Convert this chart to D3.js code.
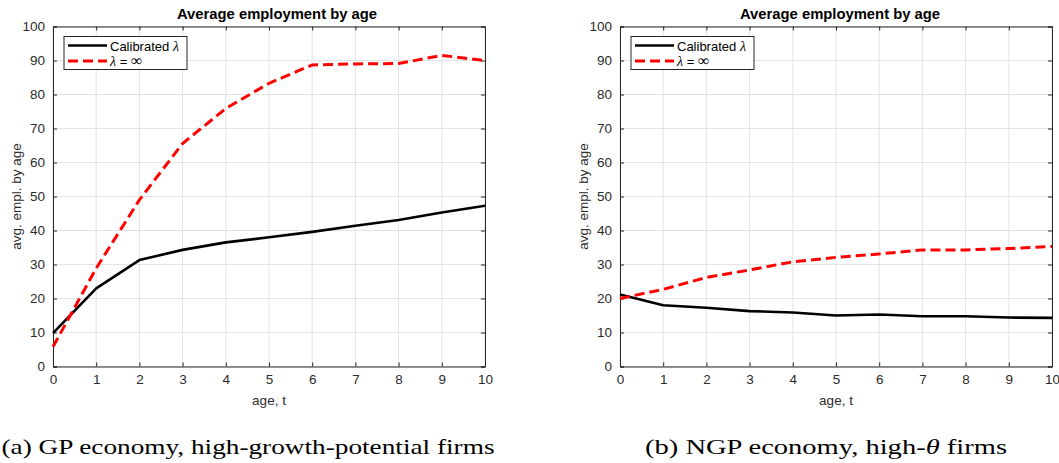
<!DOCTYPE html>
<html>
<head>
<meta charset="utf-8">
<script src="https://cdn.jsdelivr.net/npm/d3@7"></script>
<style>
  html, body { margin: 0; padding: 0; background: #fff; }
  svg { display: block; }
</style>
</head>
<body>
<svg id="chart" width="1059" height="463"></svg>
<script>
// Firm age in years
const ages = [0, 1, 2, 3, 4, 5, 6, 7, 8, 9, 10];

// (a) GP economy, high-growth-potential firms
const gpCalibrated = [9.8, 23.0, 31.3, 34.3, 36.5, 38.0, 39.6, 41.4, 43.1, 45.3, 47.3];
const gpInfinite   = [5.8, 28.9, 49.0, 65.6, 75.9, 83.3, 88.7, 89.0, 89.1, 91.5, 90.0];

// (b) NGP economy, high-theta firms
const ngpCalibrated = [21.2, 18.0, 17.3, 16.3, 15.9, 15.0, 15.3, 14.8, 14.8, 14.4, 14.3];
const ngpInfinite   = [20.0, 22.7, 26.2, 28.4, 30.8, 32.1, 33.1, 34.3, 34.3, 34.7, 35.3];

const xTicks = [0, 1, 2, 3, 4, 5, 6, 7, 8, 9, 10];
const yTicks = [0, 10, 20, 30, 40, 50, 60, 70, 80, 90, 100];

const svg = d3.select("#chart");
const sans = "'Liberation Sans', Arial, sans-serif";
const serif = "'Liberation Serif', 'DejaVu Serif', serif";
const axisColor = "#262626";
const textColor = "#2b2b2b";

function drawPanel(opts) {
  const { left, right, top, bottom, calibrated, infinite, titleX, captionX, caption, captionWidth } = opts;
  const x = d3.scaleLinear().domain([0, 10]).range([left, right]);
  const y = d3.scaleLinear().domain([0, 100]).range([bottom, top]);
  const g = svg.append("g");

  // grid
  g.append("g").selectAll("line").data(xTicks).join("line")
    .attr("x1", d => x(d)).attr("x2", d => x(d))
    .attr("y1", top).attr("y2", bottom)
    .attr("stroke", "#e3e3e3").attr("stroke-width", 1);
  g.append("g").selectAll("line").data(yTicks).join("line")
    .attr("x1", left).attr("x2", right)
    .attr("y1", d => y(d)).attr("y2", d => y(d))
    .attr("stroke", "#e3e3e3").attr("stroke-width", 1);

  // axes with inward ticks on all four sides
  const tickLen = 4;
  const bottomAxis = d3.axisBottom(x).tickValues(xTicks).tickSize(-tickLen).tickPadding(8).tickFormat(d3.format("d"));
  const topAxis = d3.axisTop(x).tickValues(xTicks).tickSize(-tickLen).tickFormat("");
  const leftAxis = d3.axisLeft(y).tickValues(yTicks).tickSize(-tickLen).tickPadding(8).tickFormat(d3.format("d"));
  const rightAxis = d3.axisRight(y).tickValues(yTicks).tickSize(-tickLen).tickFormat("");

  const styleAxis = sel => {
    sel.selectAll("path.domain").attr("stroke", axisColor).attr("stroke-width", 1);
    sel.selectAll(".tick line").attr("stroke", axisColor).attr("stroke-width", 1);
    sel.selectAll(".tick text").attr("fill", textColor).style("font-family", sans).style("font-size", "13.5px");
  };
  g.append("g").attr("transform", `translate(0,${bottom})`).call(bottomAxis).call(styleAxis);
  g.append("g").attr("transform", `translate(0,${top})`).call(topAxis).call(styleAxis);
  g.append("g").attr("transform", `translate(${left},0)`).call(leftAxis).call(styleAxis);
  g.append("g").attr("transform", `translate(${right},0)`).call(rightAxis).call(styleAxis);

  // series
  const line = d3.line().x((d, i) => x(ages[i])).y(d => y(d));
  g.append("path").datum(calibrated).attr("d", line)
    .attr("fill", "none").attr("stroke", "#000").attr("stroke-width", 2.6)
    .attr("stroke-linejoin", "round");
  g.append("path").datum(infinite).attr("d", line)
    .attr("fill", "none").attr("stroke", "#ff0000").attr("stroke-width", 3)
    .attr("stroke-dasharray", "10,5");

  // title
  g.append("text").attr("x", titleX).attr("y", 19).attr("text-anchor", "middle")
    .style("font-family", sans).style("font-size", "14.8px").style("font-weight", "bold")
    .attr("fill", "#000").text("Average employment by age");

  // axis labels
  g.append("text").attr("x", (left + right) / 2).attr("y", 405).attr("text-anchor", "middle")
    .style("font-family", sans).style("font-size", "13.5px").attr("fill", textColor).text("age, t");
  g.append("text").attr("transform", `translate(${left - 37},${(top + bottom) / 2}) rotate(-90)`)
    .attr("text-anchor", "middle").attr("dy", "0.35em")
    .style("font-family", sans).style("font-size", "13.5px").attr("fill", textColor).text("avg. empl. by age");

  // legend
  const lx = left + 11, ly = top + 10;
  g.append("rect").attr("x", lx).attr("y", ly).attr("width", 123).attr("height", 33)
    .attr("fill", "#fff").attr("stroke", "#262626").attr("stroke-width", 1);
  g.append("line").attr("x1", lx + 4).attr("x2", lx + 43).attr("y1", ly + 9).attr("y2", ly + 9)
    .attr("stroke", "#000").attr("stroke-width", 2.6);
  g.append("line").attr("x1", lx + 4).attr("x2", lx + 43).attr("y1", ly + 24.5).attr("y2", ly + 24.5)
    .attr("stroke", "#ff0000").attr("stroke-width", 3).attr("stroke-dasharray", "10,5");
  const t1 = g.append("text").attr("x", lx + 46).attr("y", ly + 14)
    .style("font-family", sans).style("font-size", "13px").attr("fill", "#000");
  t1.append("tspan").text("Calibrated ");
  t1.append("tspan").style("font-family", serif).style("font-style", "italic").style("font-size", "14px").text("λ");
  const t2 = g.append("text").attr("x", lx + 46).attr("y", ly + 29)
    .style("font-family", sans).style("font-size", "13px").attr("fill", "#000");
  t2.append("tspan").style("font-family", serif).style("font-style", "italic").style("font-size", "14px").text("λ");
  t2.append("tspan").text(" = ");
  t2.append("tspan").style("font-family", serif).style("font-size", "16px").text("∞");

  // caption
  const cap = svg.append("text").attr("x", captionX).attr("y", 454).attr("text-anchor", "middle")
    .style("font-family", serif).style("font-size", "21px").attr("fill", "#000")
    .attr("textLength", captionWidth).attr("lengthAdjust", "spacingAndGlyphs");
  caption.forEach(part => {
    const ts = cap.append("tspan").text(part.text);
    if (part.italic) ts.style("font-style", "italic");
  });
}

drawPanel({
  left: 53, right: 485, top: 26.5, bottom: 366.5,
  calibrated: gpCalibrated, infinite: gpInfinite,
  titleX: 277, captionX: 248, captionWidth: 493,
  caption: [{ text: "(a) GP economy, high-growth-potential firms" }]
});
drawPanel({
  left: 620, right: 1052, top: 26.5, bottom: 366.5,
  calibrated: ngpCalibrated, infinite: ngpInfinite,
  titleX: 840, captionX: 826, captionWidth: 362,
  caption: [{ text: "(b) NGP economy, high-" }, { text: "θ", italic: true }, { text: " firms" }]
});
</script>
</body>
</html>
